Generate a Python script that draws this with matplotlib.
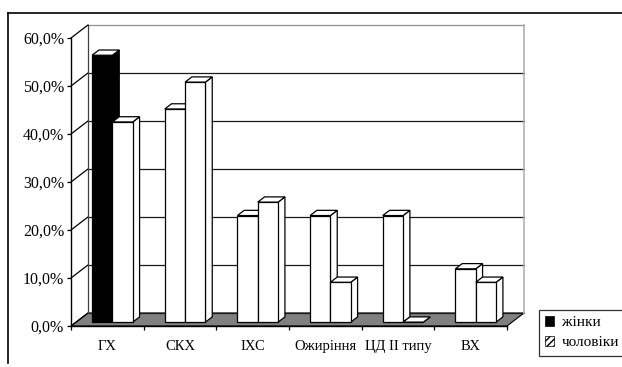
import matplotlib.pyplot as plt
from matplotlib.patches import Polygon, Patch
from matplotlib.lines import Line2D
from matplotlib.ticker import FuncFormatter

categories = ["ГХ", "СКХ", "ІХС", "Ожиріння", "ЦД II типу", "ВХ"]
women = [55.6, 44.4, 22.2, 22.2, 22.2, 11.1]
men = [41.7, 50.0, 25.0, 8.3, 0.0, 8.3]
series_labels = ["жінки", "чоловіки"]
y_ticks = [0, 10, 20, 30, 40, 50, 60]

plt.rcParams["font.family"] = ["Liberation Serif", "DejaVu Serif"]
plt.rcParams["font.size"] = 11

# oblique depth of the box (in category / percent units)
DX = 0.234
DY = 2.71
BAR_W = 0.28
Z0, Z1 = 0.3, 0.7
n = len(categories)
ymax = y_ticks[-1]

fig = plt.figure(figsize=(6.22, 3.67), dpi=100)
ax = fig.add_axes([71 / 622, 41 / 367, 436 / 622, 288 / 367])
ax.set_xlim(0, n)
ax.set_ylim(0, ymax)

# floor
floor = Polygon([(0, 0), (n, 0), (n + DX, DY), (DX, DY)], closed=True,
                facecolor="#808080", edgecolor="black", lw=0.8,
                zorder=1, clip_on=False)
ax.add_patch(floor)

# back wall + left wall gridlines
for t in y_ticks:
    col = "#909090" if t == ymax else "#1a1a1a"
    ax.plot([DX, n + DX], [t + DY, t + DY], color=col, lw=0.9,
            zorder=1.5, clip_on=False)
    ax.plot([0, DX], [t, t + DY], color="black", lw=0.9,
            zorder=1.5, clip_on=False)
ax.plot([DX, DX], [DY, ymax + DY], color="#404040", lw=0.9, zorder=1.5, clip_on=False)
ax.plot([n + DX, n + DX], [DY, ymax + DY], color="#b0b0b0", lw=1.2, zorder=1.5, clip_on=False)


def draw_bar(x0, h, face, side, z):
    fx0 = x0 + Z0 * DX
    fx1 = fx0 + BAR_W
    bx0 = x0 + Z1 * DX
    bx1 = bx0 + BAR_W
    fy = Z0 * DY
    by = Z1 * DY
    kw = dict(edgecolor="black", lw=0.9, clip_on=False, zorder=z, joinstyle="miter")
    ax.add_patch(Polygon([(fx1, fy), (bx1, by), (bx1, by + h), (fx1, fy + h)],
                         facecolor=side, **kw))
    ax.add_patch(Polygon([(fx0, fy), (fx1, fy), (fx1, fy + h), (fx0, fy + h)],
                         facecolor=face, **kw))
    ax.add_patch(Polygon([(fx0, fy + h), (fx1, fy + h), (bx1, by + h), (bx0, by + h)],
                         facecolor="white", **kw))


z = 2
for i in range(n):
    c = i + 0.5
    wcol = "black" if i == 0 else "white"
    draw_bar(c - BAR_W, women[i], wcol, wcol, z)
    z += 1
    draw_bar(c, men[i], "white", "white", z)
    z += 1

# axes
for s in ["top", "right"]:
    ax.spines[s].set_visible(False)
ax.spines["left"].set_linewidth(1.0)
ax.spines["bottom"].set_linewidth(1.0)
ax.spines["left"].set_zorder(50)
ax.spines["bottom"].set_zorder(50)

ax.set_yticks(y_ticks)
ax.yaxis.set_major_formatter(FuncFormatter(lambda v, p: f"{v:.1f}%".replace(".", ",")))
ax.tick_params(axis="y", direction="out", length=3, width=0.9, pad=2, labelsize=11.5)

ax.set_xticks(range(n + 1))
ax.set_xticklabels([])
ax.set_xticks([i + 0.5 for i in range(n)], minor=True)
ax.set_xticklabels(categories, minor=True)
ax.tick_params(axis="x", which="major", direction="out", length=3, width=0.9)
ax.tick_params(axis="x", which="minor", length=0, pad=10, labelsize=10.5)

handles = [Patch(facecolor="black", edgecolor="black", lw=0.5),
           Patch(facecolor="white", edgecolor="black", hatch="/////", lw=0.5)]
leg = fig.legend(handles, series_labels, loc="upper left",
                 bbox_to_anchor=(539 / 622, 1 - 310 / 367),
                 frameon=True, fancybox=False, shadow=False,
                 handlelength=0.6, handleheight=0.6, handletextpad=0.5,
                 borderpad=0.4, labelspacing=0.45, fontsize=11, borderaxespad=0)
leg.get_frame().set_edgecolor("black")
leg.get_frame().set_linewidth(0.9)

# outer frame
fig.add_artist(Line2D([8 / 622, 1], [1 - 13 / 367, 1 - 13 / 367], color="black", lw=1.2))
fig.add_artist(Line2D([8 / 622, 8 / 622], [1 - 13 / 367, 1 - 363 / 367], color="black", lw=1.2))

fig.savefig("out.png", dpi=100)
